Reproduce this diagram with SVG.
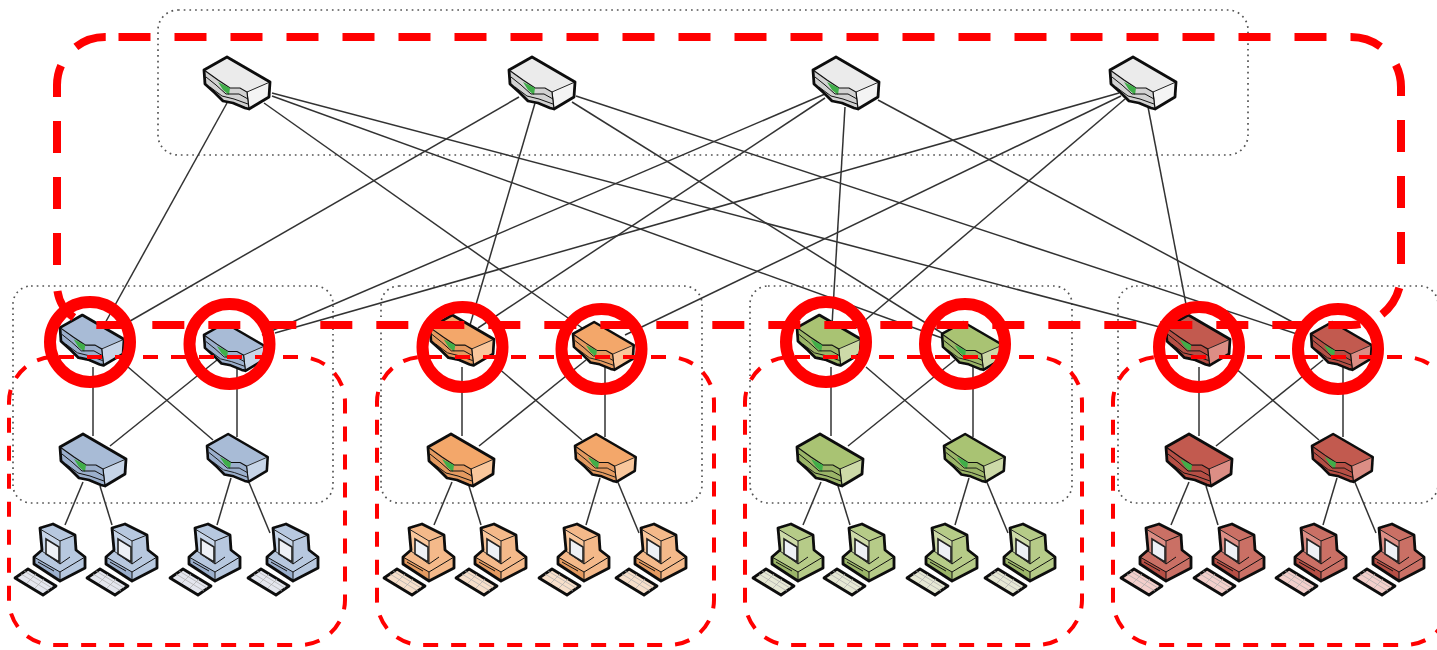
<svg xmlns="http://www.w3.org/2000/svg" width="1437" height="650" viewBox="0 0 1437 650">
<style>
.bg{fill:#fff}
.dot{fill:none;stroke:#555;stroke-width:1.7;stroke-dasharray:1.7 4}
.link line{stroke:#333;stroke-width:1.5}
.link .v{stroke:#666;stroke-width:2}
.big{fill:none;stroke:#f00;stroke-width:8;stroke-dasharray:32 24}
.pod{fill:none;stroke:#f00;stroke-width:4;stroke-dasharray:15 13;stroke-dashoffset:-5}
.ring{fill:none;stroke:#f00;stroke-width:12}
.ol{stroke:#0c0c0c;stroke-width:2.8;stroke-linejoin:round}
.thin{fill:none;stroke:#111;stroke-width:1}
.white{--top:#ebebeb;--side:#f4f4f4;--front:#d2d2d2;--key:#e8e8e8;--body:#dfdfdf}
.blue{--top:#a8bbd6;--side:#c7d5e8;--front:#9bafcc;--key:#e4e6ee;--body:#b7c8df}
.orange{--top:#f3a76b;--side:#f9c79c;--front:#e49a60;--key:#f7dfca;--body:#f4b98a}
.green{--top:#a9c373;--side:#cddaa8;--front:#9bb567;--key:#e6e8d4;--body:#b6cb88}
.red{--top:#c25a50;--side:#dc8e85;--front:#b64f45;--key:#f3cfcb;--body:#ca6f65}
</style>
<defs>
<filter id="soft" x="-2%" y="-2%" width="104%" height="104%"><feGaussianBlur stdDeviation="0.45"/></filter>
<g id="sw">
<path style="fill:var(--top)" d="M0 13L23 0L66 25L65 40L45 52L41 51L29 46L19 44L11 36L1 27Z"/>
<path style="fill:var(--side)" stroke="#222" stroke-width="1" d="M43 35L66 25L65 40L45 52Z"/>
<path style="fill:var(--front)" stroke="#111" stroke-width="1.2" d="M0 13L14 23L26 31L36 31L43 35L45 52L41 51L29 46L19 44L11 36L1 27Z"/>
<path d="M14 25L26 31L25 38L19 33Z" fill="#3fae49"/>
<path class="thin" d="M2 20L12 28L22 37L35 37L44 42M6 30L18 39L30 42L44 47"/>
<path class="ol" fill="none" d="M0 13L23 0L66 25L65 40L45 52L41 51L29 46L19 44L11 36L1 27Z"/>
</g>
<g id="pc">
<path style="fill:var(--body)" d="M26 4L39 0L61 11L62 26L71 33L71 44L46 57L20 40L20 33L28 26Z"/>
<path style="fill:var(--side)" stroke="#222" stroke-width="1" d="M26 5L46 17L46 40L28 27Z"/>
<path fill="#eef1f6" stroke="#222" stroke-width="1.6" d="M32 15L45 23L45 38L32 30Z"/>
<path style="fill:var(--front)" stroke="#111" stroke-width="1" d="M20 33L46 48L46 57L20 40Z"/>
<path class="thin" d="M46 17L61 11M46 48L71 33M46 40L56 33M24 38L40 47"/>
<path class="ol" fill="none" d="M26 4L39 0L61 11L62 26L71 33L71 44L46 57L20 40L20 33L28 26Z"/>
<path class="ol" style="fill:var(--key)" d="M1 54L14 45L42 62L29 71Z"/>
<path fill="none" stroke="#aaa" stroke-width="0.7" d="M7 50L35 67M10 47L38 64M13 59L22 50M21 64L30 55"/>
</g>
</defs>
<rect class="bg" width="1437" height="650"/>
<g id="zones">
<rect class="dot" x="158" y="10" width="1090" height="145" rx="20"/>
<rect class="dot" x="13" y="286" width="320" height="217" rx="18"/>
<rect class="dot" x="381" y="286" width="321" height="217" rx="18"/>
<rect class="dot" x="750" y="286" width="322" height="217" rx="18"/>
<rect class="dot" x="1118" y="286" width="320" height="217" rx="18"/>
</g>
<g id="connectors" class="link" filter="url(#soft)">
<line x1="227" y1="103" x2="104" y2="325"/>
<line x1="264" y1="103" x2="585" y2="330"/>
<line x1="272" y1="93" x2="1171" y2="330"/>
<line x1="272" y1="96" x2="942" y2="338"/>
<line x1="519" y1="97" x2="118" y2="328"/>
<line x1="535" y1="103" x2="470" y2="325"/>
<line x1="572" y1="102" x2="945" y2="335"/>
<line x1="576" y1="96" x2="1300" y2="335"/>
<line x1="825" y1="94" x2="262" y2="335"/>
<line x1="825" y1="98" x2="478" y2="328"/>
<line x1="845" y1="107" x2="832" y2="325"/>
<line x1="878" y1="100" x2="1298" y2="325"/>
<line x1="1119" y1="93" x2="275" y2="333"/>
<line x1="1121" y1="96" x2="625" y2="335"/>
<line x1="1125" y1="99" x2="856" y2="328"/>
<line x1="1148" y1="107" x2="1190" y2="325"/>
<line class="v" x1="93" y1="367" x2="93" y2="436"/><line class="v" x1="237" y1="365" x2="237" y2="437"/>
<line x1="128" y1="367" x2="213" y2="440"/><line x1="217" y1="360" x2="110" y2="446"/>
<line x1="83" y1="482" x2="65" y2="525"/><line x1="100" y1="486" x2="112" y2="525"/><line x1="231" y1="478" x2="217" y2="525"/><line x1="248" y1="480" x2="270" y2="533"/>
<line class="v" x1="462" y1="367" x2="462" y2="436"/><line class="v" x1="605" y1="365" x2="605" y2="437"/>
<line x1="497" y1="367" x2="582" y2="440"/><line x1="586" y1="360" x2="479" y2="446"/>
<line x1="452" y1="482" x2="434" y2="525"/><line x1="469" y1="486" x2="481" y2="525"/><line x1="600" y1="478" x2="586" y2="525"/><line x1="617" y1="480" x2="639" y2="533"/>
<line class="v" x1="831" y1="367" x2="831" y2="436"/><line class="v" x1="973" y1="365" x2="973" y2="437"/>
<line x1="866" y1="367" x2="951" y2="440"/><line x1="955" y1="360" x2="848" y2="446"/>
<line x1="821" y1="482" x2="803" y2="525"/><line x1="838" y1="486" x2="850" y2="525"/><line x1="969" y1="478" x2="955" y2="525"/><line x1="986" y1="480" x2="1008" y2="533"/>
<line class="v" x1="1199" y1="367" x2="1199" y2="436"/><line class="v" x1="1343" y1="365" x2="1343" y2="437"/>
<line x1="1234" y1="367" x2="1319" y2="440"/><line x1="1323" y1="360" x2="1216" y2="446"/>
<line x1="1189" y1="482" x2="1171" y2="525"/><line x1="1206" y1="486" x2="1218" y2="525"/><line x1="1337" y1="478" x2="1323" y2="525"/><line x1="1354" y1="480" x2="1376" y2="533"/>
</g>
<g id="nodes" filter="url(#soft)">
<g id="core-1" class="white"><use href="#sw" transform="translate(204,57)"/></g>
<g id="core-2" class="white"><use href="#sw" transform="translate(509,57)"/></g>
<g id="core-3" class="white"><use href="#sw" transform="translate(813,57)"/></g>
<g id="core-4" class="white"><use href="#sw" transform="translate(1110,57)"/></g>
<g id="blue-agg-1" class="blue"><use href="#sw" transform="translate(60,315) scale(.97)"/></g>
<g id="blue-agg-2" class="blue"><use href="#sw" transform="translate(204,323) scale(.92)"/></g>
<g id="blue-edge-1" class="blue"><use href="#sw" transform="translate(60,434)"/></g>
<g id="blue-edge-2" class="blue"><use href="#sw" transform="translate(207,434) scale(.92)"/></g>
<g id="orange-agg-1" class="orange"><use href="#sw" transform="translate(430,315) scale(.97)"/></g>
<g id="orange-agg-2" class="orange"><use href="#sw" transform="translate(573,322) scale(.92)"/></g>
<g id="orange-edge-1" class="orange"><use href="#sw" transform="translate(428,434)"/></g>
<g id="orange-edge-2" class="orange"><use href="#sw" transform="translate(575,434) scale(.92)"/></g>
<g id="green-agg-1" class="green"><use href="#sw" transform="translate(797,315) scale(.97)"/></g>
<g id="green-agg-2" class="green"><use href="#sw" transform="translate(942,322) scale(.92)"/></g>
<g id="green-edge-1" class="green"><use href="#sw" transform="translate(797,434)"/></g>
<g id="green-edge-2" class="green"><use href="#sw" transform="translate(944,434) scale(.92)"/></g>
<g id="red-agg-1" class="red"><use href="#sw" transform="translate(1166,315) scale(.97)"/></g>
<g id="red-agg-2" class="red"><use href="#sw" transform="translate(1311,322) scale(.92)"/></g>
<g id="red-edge-1" class="red"><use href="#sw" transform="translate(1166,434)"/></g>
<g id="red-edge-2" class="red"><use href="#sw" transform="translate(1312,434) scale(.92)"/></g>
<g id="blue-pc-1" class="blue"><use href="#pc" transform="translate(14,524)"/></g>
<g id="blue-pc-2" class="blue"><use href="#pc" transform="translate(86,524)"/></g>
<g id="blue-pc-3" class="blue"><use href="#pc" transform="translate(169,524)"/></g>
<g id="blue-pc-4" class="blue"><use href="#pc" transform="translate(247,524)"/></g>
<g id="orange-pc-1" class="orange"><use href="#pc" transform="translate(383,524)"/></g>
<g id="orange-pc-2" class="orange"><use href="#pc" transform="translate(455,524)"/></g>
<g id="orange-pc-3" class="orange"><use href="#pc" transform="translate(538,524)"/></g>
<g id="orange-pc-4" class="orange"><use href="#pc" transform="translate(615,524)"/></g>
<g id="green-pc-1" class="green"><use href="#pc" transform="translate(752,524)"/></g>
<g id="green-pc-2" class="green"><use href="#pc" transform="translate(823,524)"/></g>
<g id="green-pc-3" class="green"><use href="#pc" transform="translate(906,524)"/></g>
<g id="green-pc-4" class="green"><use href="#pc" transform="translate(984,524)"/></g>
<g id="red-pc-1" class="red"><use href="#pc" transform="translate(1120,524)"/></g>
<g id="red-pc-2" class="red"><use href="#pc" transform="translate(1193,524)"/></g>
<g id="red-pc-3" class="red"><use href="#pc" transform="translate(1275,524)"/></g>
<g id="red-pc-4" class="red"><use href="#pc" transform="translate(1353,524)"/></g>
</g>
<g id="highlights">
<path class="big" d="M118.500 37H1351A50 50 0 0 1 1401 87V275A50 50 0 0 1 1351 325H97A40 40 0 0 1 57 285V278"/>
<path class="big" d="M57 265V85A48 48 0 0 1 105 37H118"/>
<rect class="pod" x="9" y="357" width="336" height="288" rx="45"/>
<rect class="pod" x="377" y="357" width="337" height="288" rx="45"/>
<rect class="pod" x="745" y="357" width="337" height="288" rx="45"/>
<rect class="pod" x="1113" y="357" width="337" height="288" rx="45"/>
<circle class="ring" cx="90" cy="342" r="40"/>
<circle class="ring" cx="229.500" cy="344" r="40"/>
<circle class="ring" cx="462.500" cy="347" r="40"/>
<circle class="ring" cx="601.500" cy="349" r="40"/>
<circle class="ring" cx="826" cy="342" r="40"/>
<circle class="ring" cx="965" cy="344" r="40"/>
<circle class="ring" cx="1199" cy="347" r="40"/>
<circle class="ring" cx="1338" cy="349" r="40"/>
</g>
</svg>
